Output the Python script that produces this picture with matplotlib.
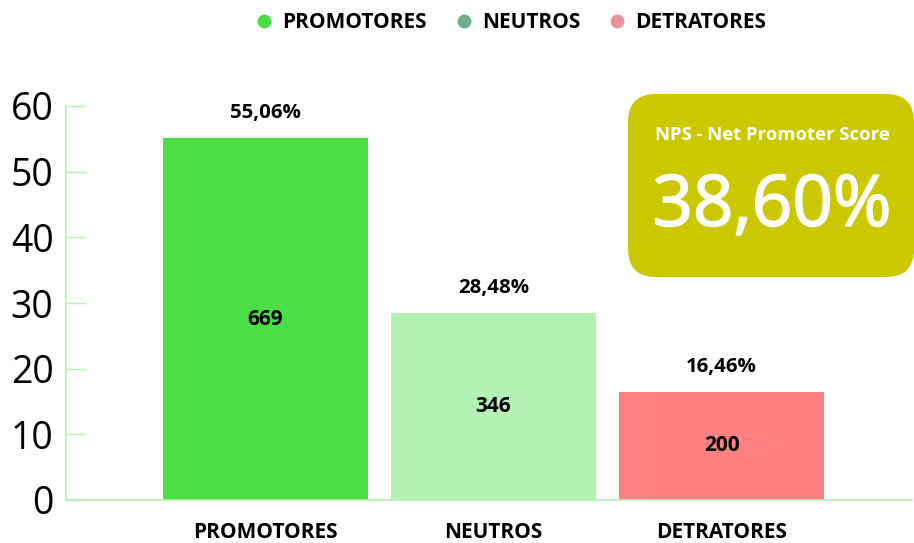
import matplotlib.pyplot as plt
import matplotlib.patheffects as pe
from matplotlib.lines import Line2D
from matplotlib.patches import FancyBboxPatch

categories = ["PROMOTORES", "NEUTROS", "DETRATORES"]
percentages = [55.06, 28.48, 16.46]
counts = [669, 346, 200]
nps_score = 38.60

bar_colors = ["#4cdf44", "#b4f1b4", "#ff8080"]
legend_colors = ["#4cdd44", "#72ab8e", "#e8939a"]
axis_color = "#b4f1b4"


def br_pct(value):
    return f"{value:.2f}%".replace(".", ",")


plt.rcParams["font.family"] = ["Open Sans", "DejaVu Sans"]

fig = plt.figure(figsize=(9.14, 5.43), dpi=100)
ax = fig.add_axes([66 / 914, 43 / 543, 846 / 914, 394 / 543])

x = range(len(categories))
bars = ax.bar(x, percentages, width=0.9, color=bar_colors, zorder=2)

for bar, pct, n in zip(bars, percentages, counts):
    cx = bar.get_x() + bar.get_width() / 2
    ax.annotate(br_pct(pct), (cx, pct), xytext=(0, 11), textcoords="offset points",
                ha="center", va="bottom", fontsize=14.7, fontweight="bold")
    ax.text(cx, pct / 2, str(n), ha="center", va="center",
            fontsize=15, fontweight="bold")

ax.set_xlim(-0.875, 2.835)
ax.set_ylim(0, 60)
ax.set_yticks(range(0, 61, 10))
ax.set_xticks(list(x))
ax.set_xticklabels(categories, fontsize=15, fontweight="bold")
ax.tick_params(axis="x", length=0, pad=16)
ax.tick_params(axis="y", direction="in", length=14.4, width=1, color=axis_color,
               labelsize=27, pad=9)
for side in ("top", "right"):
    ax.spines[side].set_visible(False)
for side in ("left", "bottom"):
    ax.spines[side].set_color(axis_color)
    ax.spines[side].set_linewidth(1.2)

handles = [Line2D([], [], marker="o", linestyle="", markersize=9,
                  markerfacecolor=c, markeredgecolor=c) for c in legend_colors]
fig.legend(handles, categories, loc="center", bbox_to_anchor=(510 / 914, 1 - 23 / 543),
           ncol=3, frameon=False, handlelength=1.0, handletextpad=0.37,
           columnspacing=1.28, prop={"size": 15, "weight": "bold"})

# NPS summary card, drawn in pixel coordinates on an overlay
overlay = fig.add_axes([0, 0, 1, 1])
overlay.set_xlim(0, 914)
overlay.set_ylim(543, 0)
overlay.axis("off")
overlay.add_patch(FancyBboxPatch((628, 94), 286, 183,
                                 boxstyle="round,pad=0,rounding_size=28",
                                 facecolor="#cbc800", edgecolor="none"))
overlay.text(772, 135, "NPS - Net Promoter Score", color="white", ha="center",
             va="center", fontsize=13.3, fontweight="bold")
overlay.text(772, 207, br_pct(nps_score), color="white", ha="center",
             va="center", fontsize=51,
             path_effects=[pe.withStroke(linewidth=1.2, foreground="white")])

fig.savefig("out.png", dpi=100)
